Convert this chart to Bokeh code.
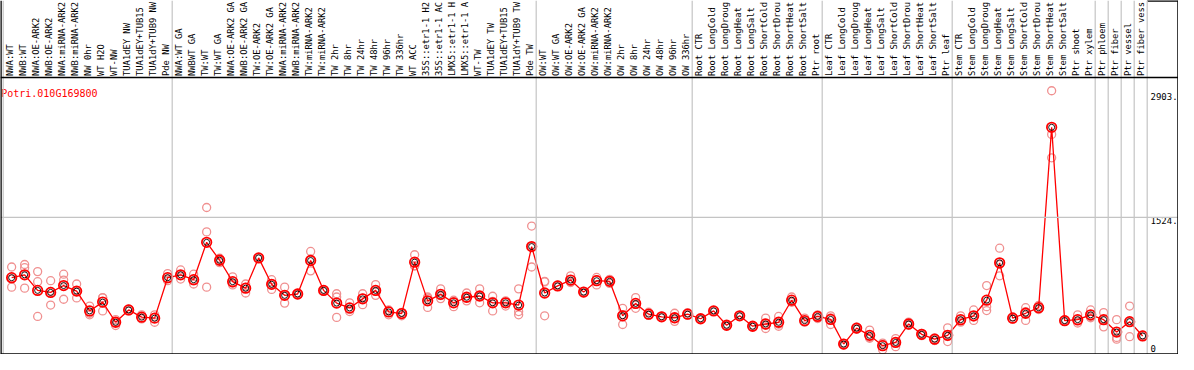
from math import pi
from bokeh.plotting import figure
from bokeh.models import Range1d, Span
from bokeh.embed import file_html
from bokeh.resources import INLINE
from bokeh.core.properties import value

# ---------------- data ----------------
gene_id = "Potri.010G169800"

labels = [
    "NWA:WT", "NWB:WT", "NWA:OE-ARK2", "NWB:OE-ARK2", "NWA:miRNA-ARK2", "NWB:miRNA-ARK2",
    "NW 0hr", "WT H2O", "WT-NW", "TUA1dEY NW", "TUA1dEY+TUB15", "TUA1dY+TUB9 NW", "Pde NW",
    "NWA:WT GA", "NWBWT GA", "TW:WT", "TW:WT GA", "NWA:OE-ARK2 GA", "NWB:OE-ARK2 GA",
    "TW:OE-ARK2", "TW:OE-ARK2 GA", "NWA:miRNA-ARK2", "NWB:miRNA-ARK2", "TW:miRNA-ARK2",
    "TW:miRNA-ARK2", "TW 2hr", "TW 8hr", "TW 24hr", "TW 48hr", "TW 96hr", "TW 336hr",
    "WT ACC", "35S::etr1-1 H2", "35S::etr1-1 AC", "LMX5::etr1-1 H", "LMX5::etr1-1 A",
    "WT-TW", "TUA1dEY TW", "TUA1dEY+TUB15", "TUA1dY+TUB9 TW", "Pde TW",
    "OW:WT", "OW:WT GA", "OW:OE-ARK2", "OW:OE-ARK2 GA", "OW:miRNA-ARK2", "OW:miRNA-ARK2",
    "OW 2hr", "OW 8hr", "OW 24hr", "OW 48hr", "OW 96hr", "OW 336hr",
    "Root CTR", "Root LongCold", "Root LongDroug", "Root LongHeat", "Root LongSalt",
    "Root ShortCold", "Root ShortDrou", "Root ShortHeat", "Root ShortSalt", "Ptr root",
    "Leaf CTR", "Leaf LongCold", "Leaf LongDroug", "Leaf LongHeat", "Leaf LongSalt",
    "Leaf ShortCold", "Leaf ShortDrou", "Leaf ShortHeat", "Leaf ShortSalt", "Ptr leaf",
    "Stem CTR", "Stem LongCold", "Stem LongDroug", "Stem LongHeat", "Stem LongSalt",
    "Stem ShortCold", "Stem ShortDrou", "Stem ShortHeat", "Stem ShortSalt", "Ptr shoot",
    "Ptr xylem", "Ptr phloem", "Ptr fiber", "Ptr vessel", "Ptr fiber vess",
]

group_sizes = [13, 28, 12, 10, 10, 11, 1, 1, 1, 1]

means = [
    853, 885, 712, 690, 766, 704, 484, 582, 358, 495, 415, 404, 853,
    885, 831, 1246, 1047, 809, 737, 1073, 780, 657, 672, 1044, 712, 571, 517, 618, 712,
    473, 455, 1026, 596, 668, 574, 636, 650, 574, 574, 549, 1199,
    683, 762, 827, 693, 820, 813, 430, 567, 448, 419, 408, 448,
    397, 484, 325, 430, 314, 339, 358, 603, 376, 423,
    390, 116, 293, 213, 98, 134, 339, 224, 170, 213,
    387, 430, 603, 1018, 404, 458, 520, 2524, 376, 387, 441,
    387, 249, 365, 206,
]

rep1 = [
    972, 1000, 921, 820, 892, 783, 538, 632, 387, 505, 441, 441, 899,
    939, 892, 1633, 1070, 863, 783, 1075, 831, 748, 680, 1145, 720, 675, 574, 675, 777,
    495, 466, 1108, 639, 729, 603, 683, 729, 647, 596, 729, 1427,
    813, 770, 874, 700, 856, 835, 513, 632, 470, 425, 458, 466,
    400, 488, 330, 435, 318, 404, 423, 639, 404, 440,
    430, 120, 305, 271, 127, 177, 360, 235, 185, 296,
    430, 495, 766, 1181, 420, 520, 545, 2930, 385, 441, 495,
    466, 387, 538, 215,
]

rep2 = [
    748, 964, 809, 549, 827, 628, 458, 484, 322, 485, 410, 358, 820,
    838, 783, 1362, 1020, 773, 683, 1070, 723, 571, 665, 929, 705, 639, 477, 553, 657,
    441, 430, 983, 523, 621, 531, 596, 574, 484, 538, 477, 972,
    430, 755, 800, 686, 773, 790, 333, 513, 440, 412, 368, 440,
    395, 480, 320, 425, 310, 289, 314, 590, 365, 400,
    333, 105, 280, 188, 54, 87, 325, 210, 155, 144,
    360, 379, 531, 874, 395, 379, 500, 2445, 370, 350, 420,
    307, 170, 198, 200,
]

rep3 = [
    840, 737, 423, 700, 614, 700, 441, 630, 365, 495, 395, 413, 840,
    878, 818, 748, 1050, 791, 745, 1074, 786, 652, 671, 1058, 711, 412, 500, 626, 702,
    483, 469, 987, 626, 654, 591, 629, 647, 591, 581, 441, 1198,
    806, 761, 807, 693, 831, 814, 444, 556, 434, 420, 398, 438,
    396, 484, 325, 430, 314, 324, 337, 580, 359, 429,
    407, 123, 294, 180, 113, 138, 332, 227, 170, 199,
    371, 416, 488, 999, 397, 475, 515, 2185, 373, 370, 408,
    388, 190, 359, 203,
]

tick_values = [2903, 1524, 0]
tick_labels = ["2903.", "1524.", "0"]

# ---------------- layout helpers ----------------
W, H = 1178, 354                 # figure size (page margin 8px)
CELL = 13.0                      # pixels per sample column
X0 = (8 - 10.7) / CELL           # left frame edge in column units
X1 = X0 + W / CELL
DATA_TOP = 3077                  # value at the header's bottom line
PLOT_PX = 277                    # pixel height of the data region
Y1 = DATA_TOP * H / PLOT_PX      # top of the figure (header area above DATA_TOP)
PX = Y1 / H                      # data units per pixel (vertical)

n = len(labels)
xs_pt = [i + 0.65 for i in range(n)]
xs_lbl = [i + 0.5 for i in range(n)]

bounds = [0]
for g in group_sizes:
    bounds.append(bounds[-1] + g)

MONO = value("DejaVu Sans Mono")

p = figure(width=W, height=H, output_backend="svg", toolbar_location=None,
           x_range=Range1d(X0, X1), y_range=Range1d(0, Y1),
           x_axis_location=None, y_axis_location=None,
           min_border=0, outline_line_color=None, background_fill_color="white",
           border_fill_color="white")
p.grid.visible = False

GRAY = "#C4C4C4"
for b in bounds:
    p.add_layout(Span(location=b, dimension="height", line_color=GRAY, line_width=1.2))
p.add_layout(Span(location=tick_values[1], dimension="width", line_color=GRAY, line_width=1.2))

# header bottom line and borders
p.add_layout(Span(location=DATA_TOP, dimension="width", line_color="black", line_width=1.5))
p.add_layout(Span(location=X0, dimension="height", line_color="black", line_width=2.5))
p.add_layout(Span(location=X1, dimension="height", line_color="black", line_width=2.5))
p.add_layout(Span(location=0, dimension="width", line_color="black", line_width=2.5))
p.segment(x0=[bounds[-1]], y0=[Y1], x1=[X1], y1=[Y1], line_color="black", line_width=2.5)

# header labels (rotated, reading upwards)
p.text(x=xs_lbl, y=[DATA_TOP + 1.5 * PX] * n, text=labels, angle=pi / 2,
       text_align="left", text_baseline="middle", text_font=MONO,
       text_font_size="8.8px", text_color="black")

# title (gene id)
p.text(x=[X0 + 0.7 / CELL], y=[DATA_TOP - 16 * PX], text=[gene_id],
       text_align="left", text_baseline="alphabetic", text_font=MONO,
       text_font_size="10px", text_color="red")

# right-hand value labels
xr = (1158 - 10.7) / CELL
p.text(x=[xr, xr], y=tick_values[:2], text=tick_labels[:2], text_align="left",
       text_baseline="top", text_font=MONO, text_font_size="9px", text_color="black")
p.text(x=[xr], y=[tick_values[2] + 6 * PX], text=[tick_labels[2]], text_align="left",
       text_baseline="alphabetic", text_font=MONO, text_font_size="9px", text_color="black")

# replicates
REP = "#F09090"
for r in (rep1, rep2, rep3):
    p.scatter(x=xs_pt, y=r, marker="circle", size=8, fill_color=None,
              line_color=REP, line_width=1.3)

# mean line + markers
p.line(x=xs_pt, y=means, line_color="red", line_width=1.3)
p.scatter(x=xs_pt, y=means, marker="circle", size=9.5, fill_color=None,
          line_color="red", line_width=1.8)
p.scatter(x=xs_pt, y=means, marker="circle", size=6, fill_color=None,
          line_color="black", line_width=0.9)

open("out.html", "w").write(file_html(p, INLINE))
